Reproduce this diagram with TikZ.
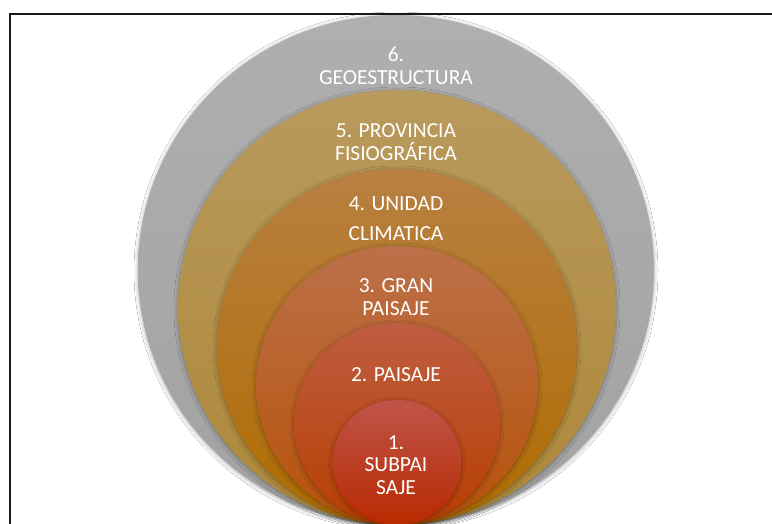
\documentclass[tikz,border=0pt]{standalone}
\usepackage{fontspec}
\setmainfont{Carlito}
\usetikzlibrary{shadows.blur}
\definecolor{g6t}{HTML}{AFAFAF}\definecolor{g6b}{HTML}{A2A2A2}
\definecolor{g5t}{HTML}{B99A5D}\definecolor{g5b}{HTML}{AD8838}
\definecolor{g4t}{HTML}{B88042}\definecolor{g4b}{HTML}{B06C00}
\definecolor{g3t}{HTML}{BC7049}\definecolor{g3b}{HTML}{B65208}
\definecolor{g2t}{HTML}{BE5D41}\definecolor{g2b}{HTML}{B83E00}
\definecolor{g1t}{HTML}{C0544A}\definecolor{g1b}{HTML}{B82A00}
\tikzset{
  ring/.style={blur shadow={shadow xshift=0pt, shadow yshift=-1pt, shadow blur radius=4pt, shadow opacity=35}},
  lbl/.style={text=white, align=center, font=\fontsize{21.5}{22.5}\selectfont, inner sep=0pt}
}
\begin{document}
\begin{tikzpicture}[x=1pt,y=-1pt]
\useasboundingbox (0,0) rectangle (772,524);
\fill[white] (0,0) rectangle (772,524);
\draw[line width=2pt, black!90] (9.5,530) -- (9.5,14) -- (780,14);
\path[ring, top color=g6t, bottom color=g6b] (396,270) ellipse [x radius=258, y radius=255];
\path[ring, top color=g5t, bottom color=g5b] (397,307.5) ellipse [x radius=219, y radius=217.5];
\path[ring, top color=g4t, bottom color=g4b] (397,347) ellipse [x radius=180, y radius=178];
\path[ring, top color=g3t, bottom color=g3b] (397,385.5) ellipse [x radius=141, y radius=139.5];
\path[ring, top color=g2t, bottom color=g2b] (397,424) ellipse [x radius=103, y radius=101];
\path[ring, top color=g1t, bottom color=g1b] (397,462.5) ellipse [x radius=64.5, y radius=62.5];
\node[lbl] (t6) at (396,66) {6.\\GEOESTRUCTURA};
\node[lbl] (t5) at (396,142) {5. PROVINCIA\\FISIOGRÁFICA};
\node[lbl] (t4) at (396,218.5) {4. UNIDAD\\[8pt]CLIMATICA};
\node[lbl] (t3) at (396,297) {3. GRAN\\PAISAJE};
\node[lbl] (t2) at (396,375) {2. PAISAJE};
\node[lbl] (t1) at (396,465) {1.\\SUBPAI\\SAJE};
\end{tikzpicture}
\end{document}
